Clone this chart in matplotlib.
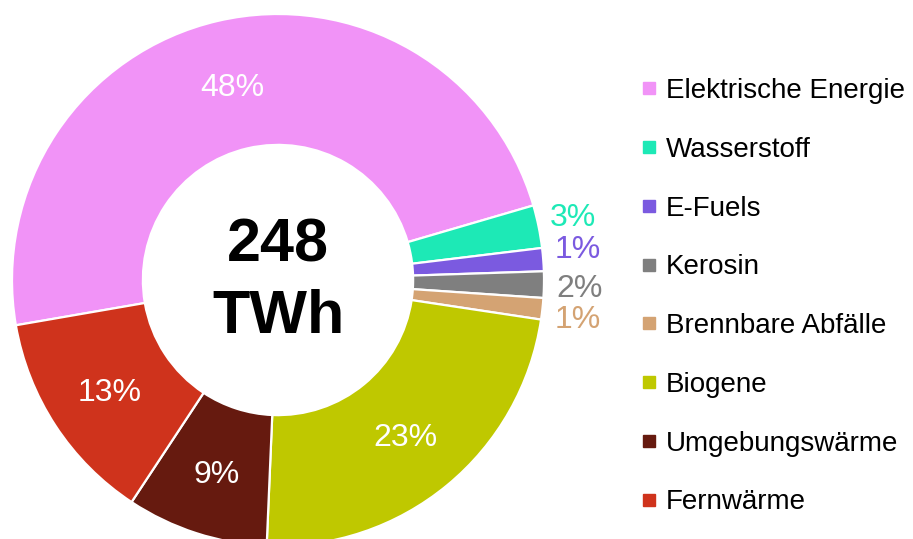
import numpy as np
import matplotlib.pyplot as plt
from matplotlib.lines import Line2D

plt.rcParams['font.family'] = ['Liberation Sans', 'DejaVu Sans']

# Daten (Anteile in %)
labels = ['Elektrische Energie', 'Wasserstoff', 'E-Fuels', 'Kerosin',
          'Brennbare Abfälle', 'Biogene', 'Umgebungswärme', 'Fernwärme']
shares = [48.2, 2.6, 1.4, 1.6, 1.3, 23.3, 8.6, 13.0]
colors = ['#F193F7', '#1DE9B6', '#7B5AE0', '#7F7F7F',
          '#D4A373', '#BFC800', '#661A0F', '#CF331C']
total_value = '248'
total_unit = 'TWh'

fig = plt.figure(figsize=(9.13, 5.39), dpi=100)
# Mittelpunkt bei (278, 280) px, Radius 266 px
ax = fig.add_axes([12 / 913, -7 / 539, 532 / 913, 532 / 539])

wedges, _ = ax.pie(shares, colors=colors, startangle=189.8, counterclock=False,
                   radius=1, wedgeprops=dict(width=0.492, edgecolor='white', linewidth=1.6))
ax.set_xlim(-1, 1)
ax.set_ylim(-1, 1)
ax.set_aspect('equal')

# Prozentwerte: große innen (weiß), kleine außen (farbig)
small_shift = {1: 1.0, 2: 2.0, 3: 0.0, 4: -0.7}  # Winkelverschiebung in Grad
for i, (w, s) in enumerate(zip(wedges, shares)):
    mid = np.deg2rad((w.theta1 + w.theta2) / 2)
    txt = f'{round(s):d}%'
    if s >= 5:
        r = 0.755
        ax.text(r * np.cos(mid), r * np.sin(mid), txt, color='white',
                ha='center', va='center_baseline', fontsize=23)
    else:
        ang = mid + np.deg2rad(small_shift.get(i, 0))
        r = 1.135
        ax.text(r * np.cos(ang), r * np.sin(ang), txt, color=colors[i],
                ha='center', va='center_baseline', fontsize=23, clip_on=False)

ax.text(0, 0.068, total_value, ha='center', va='baseline', fontsize=44, fontweight='bold')
ax.text(0, -0.199, total_unit, ha='center', va='baseline', fontsize=44, fontweight='bold')

handles = [Line2D([], [], marker='s', linestyle='', markersize=8.6,
                  markerfacecolor=c, markeredgecolor=c) for c in colors]
fig.legend(handles, labels, loc='upper left', bbox_to_anchor=(641 / 913, 1 - 78 / 539),
           frameon=False, fontsize=20, labelspacing=1.18, handlelength=0.6,
           handletextpad=0.3, borderaxespad=0, borderpad=0)

fig.savefig('out.png', dpi=100)
